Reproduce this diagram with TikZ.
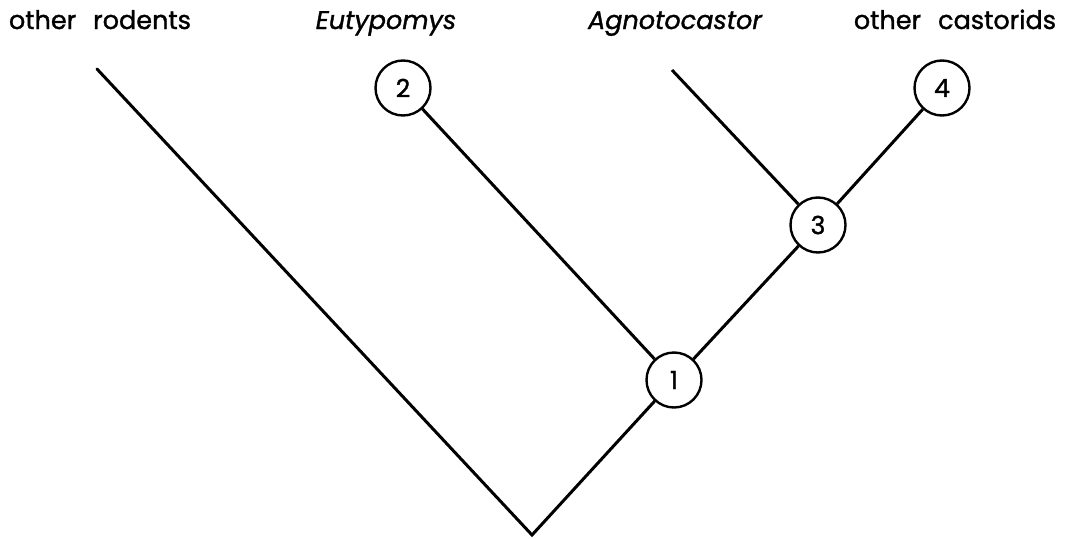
\documentclass[tikz,border=0pt]{standalone}
\usepackage{fontspec}
\newfontfamily\labfont[FakeBold=1.3]{Poppins}
\begin{document}
\begin{tikzpicture}[x=1pt,y=-1pt,
  branch/.style={line width=3pt},
  num/.style={circle,draw,line width=2.4pt,minimum size=55pt,inner sep=0pt,font=\labfont\fontsize{25}{25}\selectfont,fill=white},
  lab/.style={anchor=base,font=\labfont\fontsize{25.5}{25.5}\selectfont}]
\useasboundingbox (0,0) rectangle (1070,538);
\coordinate (root) at (532,535);
\coordinate (tipR) at (97,69);
\coordinate (tipA) at (672,70);
\node[num] (n1) at (674,380) {1};
\node[num] (n2) at (403,88) {2};
\node[num] (n3) at (818,225) {3};
\node[num] (n4) at (942,88) {4};
\draw[branch,line cap=round,line join=miter] (tipR) -- (root) -- (n1);
\draw[branch] (n1) -- (n2);
\draw[branch] (n1) -- (n3);
\draw[branch] (n3) -- (tipA);
\draw[branch] (n3) -- (n4);
\node[lab] (l1) at (100,29) {other\hspace{0.4em} rodents};
\node[lab] (l2) at (386,29) {\itshape Eutypomys};
\node[lab] (l3) at (675,29) {\itshape Agnotocastor};
\node[lab] (l4) at (955,29) {other\hspace{0.4em} castorids};
\end{tikzpicture}
\end{document}
